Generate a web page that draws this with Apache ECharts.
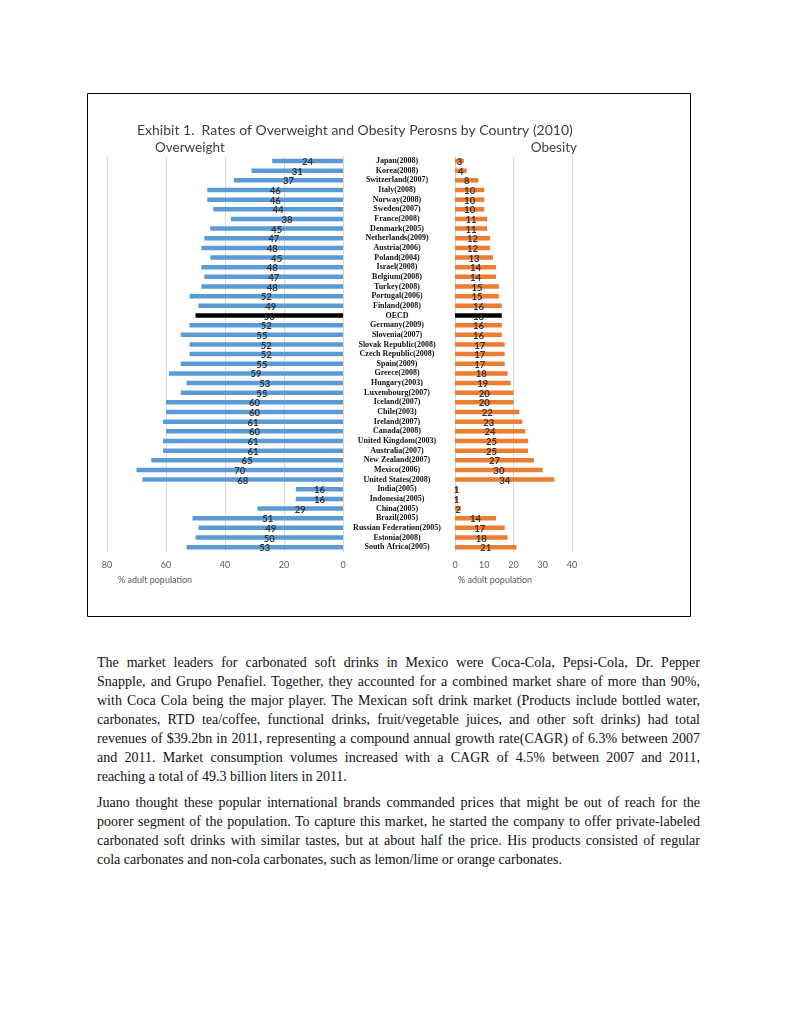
<!DOCTYPE html>
<html>
<head>
<meta charset="utf-8">
<script src="https://cdn.jsdelivr.net/npm/echarts@6/dist/echarts.min.js"></script>
<style>
  html, body { margin: 0; padding: 0; background: #fff; width: 791px; height: 1024px; overflow: hidden; }
  #chart { position: absolute; left: 0; top: 0; width: 791px; height: 630px; }
  .ln { position: absolute; left: 97px; width: 603px; font-family: "Liberation Serif", "Times New Roman", serif;
        font-size: 14px; line-height: 16px; color: #111; text-align: justify; text-align-last: justify; white-space: normal; }
  .ln.last { text-align-last: left; }
</style>
</head>
<body>
<div id="chart"></div>
<div id="text"></div>
<script>
const categories = ["Japan(2008)","Korea(2008)","Switzerland(2007)","Italy(2008)","Norway(2008)","Sweden(2007)","France(2008)","Denmark(2005)","Netherlands(2009)","Austria(2006)","Poland(2004)","Israel(2008)","Belgium(2008)","Turkey(2008)","Portugal(2006)","Finland(2008)","OECD","Germany(2009)","Slovenia(2007)","Slovak Republic(2008)","Czech Republic(2008)","Spain(2009)","Greece(2008)","Hungary(2003)","Luxembourg(2007)","Iceland(2007)","Chile(2003)","Ireland(2007)","Canada(2008)","United Kingdom(2003)","Australia(2007)","New Zealand(2007)","Mexico(2006)","United States(2008)","India(2005)","Indonesia(2005)","China(2005)","Brazil(2005)","Russian Federation(2005)","Estonia(2008)","South Africa(2005)"];
const overweight = [24,31,37,46,46,44,38,45,47,48,45,48,47,48,52,49,50,52,55,52,52,55,59,53,55,60,60,61,60,61,61,65,70,68,16,16,29,51,49,50,53];
const obesity = [3,4,8,10,10,10,11,11,12,12,13,14,14,15,15,16,16,16,16,17,17,17,18,19,20,20,22,23,24,25,25,27,30,34,1,1,2,14,17,18,21];
const leftTicks = [0,20,40,60,80];
const rightTicks = [0,10,20,30,40];
const titleText = "Exhibit 1.  Rates of Overweight and Obesity Perosns by Country (2010)";
const para1 = [
 "The market leaders for carbonated soft drinks in Mexico were Coca-Cola, Pepsi-Cola, Dr. Pepper",
 "Snapple, and Grupo Penafiel. Together, they accounted for a combined market share of more than 90%,",
 "with Coca Cola being the major player. The Mexican soft drink market (Products include bottled water,",
 "carbonates, RTD tea/coffee, functional drinks, fruit/vegetable juices, and other soft drinks) had total",
 "revenues of $39.2bn in 2011, representing a compound annual growth rate(CAGR) of 6.3% between 2007",
 "and 2011. Market consumption volumes increased with a CAGR of 4.5% between 2007 and 2011,",
 "reaching a total of 49.3 billion liters in 2011."
];
const para2 = [
 "Juano thought these popular international brands commanded prices that might be out of reach for the",
 "poorer segment of the population. To capture this market, he started the company to offer private-labeled",
 "carbonated soft drinks with similar tastes, but at about half the price. His products consisted of regular",
 "cola carbonates and non-cola carbonates, such as lemon/lime or orange carbonates."
];

(function(){
  const host = document.getElementById('text');
  function add(lines, startY){
    lines.forEach((t,i)=>{
      const d = document.createElement('div');
      d.className = 'ln' + (i === lines.length-1 ? ' last' : '');
      d.style.top = (startY + i*19 - 8) + 'px';
      d.textContent = t;
      host.appendChild(d);
    });
  }
  add(para1, 663);
  add(para2, 803);
})();

const BLUE = '#5B9BD5', ORANGE = '#ED7D31';
const gridTop = 156.2, gridH = 395.8;
const labelStyle = { show: true, position: 'inside', color: '#333', fontFamily: 'Lato, sans-serif', fontWeight: 'bold', fontSize: 9.5, offset: [0, 1] };
const tickLabel = { color: '#595959', fontFamily: 'Lato, sans-serif', fontSize: 9, margin: 9 };
const chart = echarts.init(document.getElementById('chart'), null, {renderer: 'canvas'});
chart.setOption({
  animation: false,
  backgroundColor: '#fff',
  grid: [
    { left: 107, top: gridTop, width: 236, height: gridH },
    { left: 455, top: gridTop, width: 117, height: gridH }
  ],
  xAxis: [
    { gridIndex: 0, type: 'value', min: 0, max: 80, interval: 20, inverse: true,
      axisLine: {show:false}, axisTick: {show:false},
      axisLabel: tickLabel,
      splitLine: { show: true, lineStyle: { color: '#d9d9d9', width: 1 } } },
    { gridIndex: 1, type: 'value', min: 0, max: 40, interval: 10,
      axisLine: {show:false}, axisTick: {show:false},
      axisLabel: tickLabel, splitLine: {show:false} },
    { gridIndex: 1, type: 'value', min: 0, max: 40, interval: 20, position: 'bottom',
      axisLine: {show:false}, axisTick: {show:false}, axisLabel: {show:false},
      splitLine: { show: true, lineStyle: { color: '#d9d9d9', width: 1 } } }
  ],
  yAxis: [
    { gridIndex: 0, type: 'category', data: categories, inverse: true,
      axisLine: {show:false}, axisTick: {show:false}, axisLabel: {show:false} },
    { gridIndex: 1, type: 'category', data: categories, inverse: true,
      axisLine: {show:false}, axisTick: {show:false},
      axisLabel: { show: true, align: 'center', margin: 58, interval: 0,
        fontFamily: '"Liberation Serif", "Times New Roman", serif', fontWeight: 'bold', fontSize: 8, color: '#111' } }
  ],
  series: [
    { type: 'bar', xAxisIndex: 0, yAxisIndex: 0, barWidth: 4.5,
      data: overweight.map((v,i)=> categories[i]==='OECD' ? {value:v, itemStyle:{color:'#000'}, label:{color:'#222'}} : v),
      itemStyle: { color: BLUE }, label: labelStyle },
    { type: 'bar', xAxisIndex: 1, yAxisIndex: 1, barWidth: 4.5,
      data: obesity.map((v,i)=> categories[i]==='OECD' ? {value:v, itemStyle:{color:'#000'}, label:{color:'#222'}} : v),
      itemStyle: { color: ORANGE }, label: labelStyle }
  ],
  graphic: [
    { type: 'rect', shape: { x: 87.5, y: 93.5, width: 603, height: 523 }, style: { fill: 'none', stroke: '#000', lineWidth: 1 }, silent: true },
    { type: 'text', x: 137, y: 130, style: { text: titleText, fontFamily: 'Lato, sans-serif', fontSize: 14, fill: '#404040', textVerticalAlign: 'middle' } },
    { type: 'text', x: 155, y: 148, style: { text: 'Overweight', fontFamily: 'Lato, sans-serif', fontSize: 13.5, fill: '#404040', textVerticalAlign: 'middle' } },
    { type: 'text', x: 577, y: 148, style: { text: 'Obesity', fontFamily: 'Lato, sans-serif', fontSize: 13.5, fill: '#404040', textAlign: 'right', textVerticalAlign: 'middle' } },
    { type: 'text', x: 118, y: 580, style: { text: '% adult population', fontFamily: 'Lato, sans-serif', fontSize: 9, fill: '#595959', textVerticalAlign: 'middle' } },
    { type: 'text', x: 458, y: 580, style: { text: '% adult population', fontFamily: 'Lato, sans-serif', fontSize: 9, fill: '#595959', textVerticalAlign: 'middle' } }
  ]
});
</script>
</body>
</html>
